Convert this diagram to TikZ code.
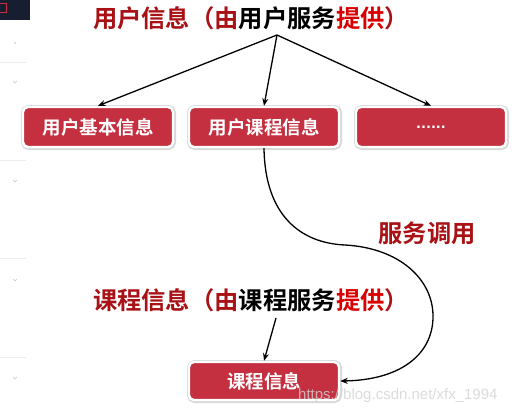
\documentclass[tikz,border=0pt]{standalone}
\usepackage{fontspec}
\setmainfont{Liberation Sans}
\newfontfamily\cjk{Noto Sans CJK SC Bold}
\usetikzlibrary{arrows.meta,shadows}
\definecolor{boxred}{RGB}{196,48,64}
\definecolor{txtred}{RGB}{168,18,22}
\definecolor{navy}{RGB}{22,30,48}
\begin{document}
\begin{tikzpicture}[x=1pt,y=-1pt,
  infobox/.style={draw=white, line width=2.4pt, fill=boxred, rounded corners=5pt,
    minimum width=150pt, minimum height=40pt, inner sep=0pt,
    text=white, font=\cjk\fontsize{18.5}{18.5}\selectfont,
    preaction={draw=gray!30, line width=5pt, transform canvas={xshift=0.5pt,yshift=-0.5pt}}},
  head/.style={font=\cjk\fontsize{24.3}{25}\selectfont, text=txtred, inner sep=0pt},
  arr/.style={-{Stealth[length=7.5pt,width=6pt]}, line width=1.3pt, black},
  side/.style={draw=gray!15, line width=0.8pt}]
\useasboundingbox (0,0) rectangle (518,418);
% sidebar remnants
\fill[navy] (0,0) rectangle (30,20);
\draw[boxred, line width=1pt] (0,3) -- (6,3) -- (6,12) -- (0,12);
\foreach \yy in {62,160,258,357} \draw[side] (0,\yy) -- (26,\yy);
\foreach \yy in {82,181,280,378} \draw[gray!45, line width=0.5pt] (13,\yy-1) -- (15,\yy+1) -- (17,\yy-1);
\fill[gray!50] (15,43) circle (0.8);
% top heading
\node[head] (top) at (251,18) {用户信息（由\textcolor{black}{用户服务}\textcolor{red!85!black}{提供}）};
\coordinate (topo) at (277,35);
% boxes
\node[infobox] (b1) at (98,127) {用户基本信息};
\node[infobox] (b2) at (264,127) {用户课程信息};
\node[infobox] (b3) at (431,127) {\fontspec{DejaVu Sans}\bfseries\fontsize{13}{13}\selectfont ......};
\draw[arr] (topo) -- (b1.north);
\draw[arr] (topo) -- (b2.north);
\draw[arr] (topo) -- (b3.north);
% second heading
\node[head] (mid) at (251,300) {课程信息（由\textcolor{black}{课程服务}\textcolor{red!85!black}{提供}）};
\coordinate (mido) at (276,318);
\node[infobox, minimum height=38pt] (b4) at (264,381) {课程信息};
\draw[arr] (mido) -- (b4.north);
% service call curve
\node[head] (call) at (427,233) {服务调用};
\draw[arr] (b2.south) .. controls (265,215) and (300,243) .. (345,245)
  .. controls (400,248) and (434,280) .. (433,318)
  .. controls (432,355) and (400,380) .. (b4.east);
% watermark
\node[text=gray!35, opacity=0.8, font=\fontsize{15}{15}\selectfont, anchor=west, inner sep=0pt] (wm) at (298,396) {https://blog.csdn.net/xfx\_1994};
\end{tikzpicture}
\end{document}
